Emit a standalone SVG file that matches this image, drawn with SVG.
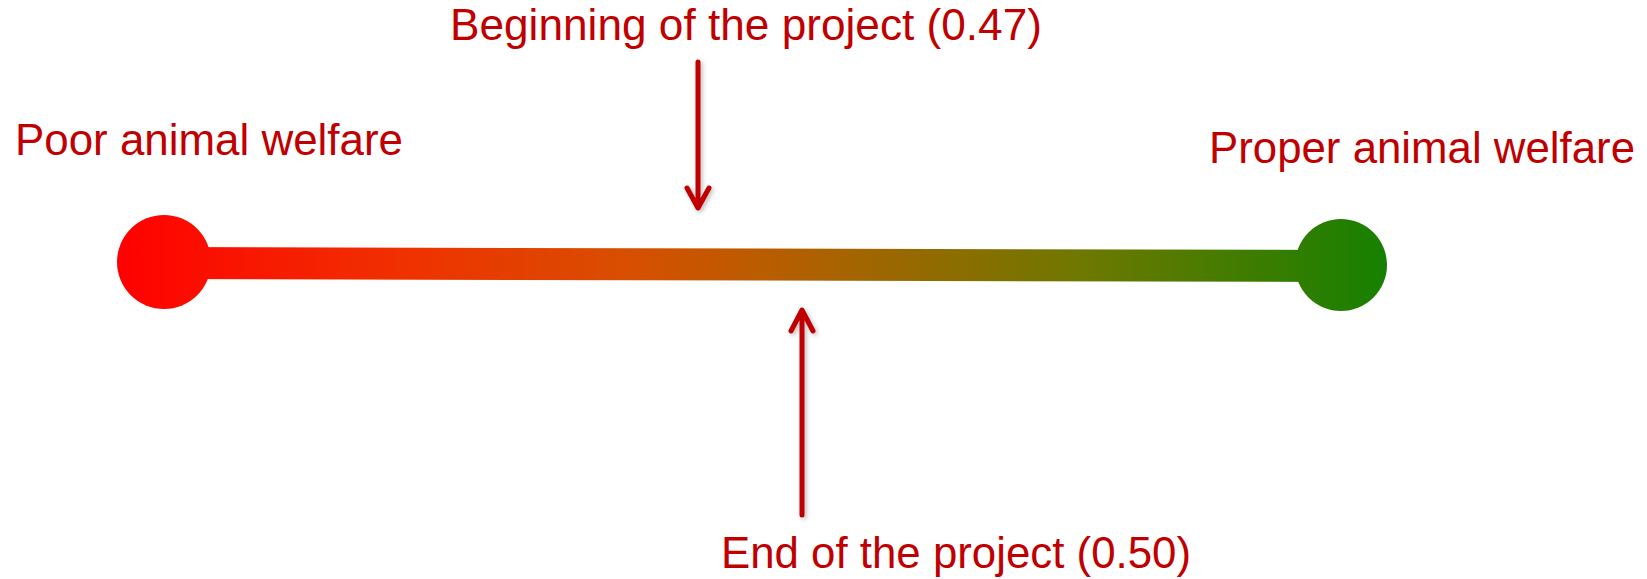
<svg xmlns="http://www.w3.org/2000/svg" width="1647" height="579" viewBox="0 0 1647 579">
  <style>
    .lbl { font-family: "Liberation Sans", Arial, sans-serif; font-size: 44px; fill: #C00000; }
    .arrow { fill: none; stroke: #C00000; stroke-width: 5; stroke-linecap: round; stroke-linejoin: round; }
  </style>
  <defs>
    <linearGradient id="scale" gradientUnits="userSpaceOnUse" x1="117" y1="0" x2="1387" y2="0">
      <stop offset="0" stop-color="#FF0000"/>
      <stop offset="0.22" stop-color="#F03000"/>
      <stop offset="0.40" stop-color="#D84E00"/>
      <stop offset="0.54" stop-color="#B06000"/>
      <stop offset="0.76" stop-color="#6E7800"/>
      <stop offset="1" stop-color="#168000"/>
    </linearGradient>
    <filter id="shadow" x="-50%" y="-10%" width="200%" height="120%">
      <feDropShadow dx="2" dy="2" stdDeviation="2" flood-color="#000" flood-opacity="0.25"/>
    </filter>
  </defs>
  <rect width="1647" height="579" fill="#FFFFFF"/>

  <g id="scale-bar">
    <path d="M164,247 L1341,250 L1341,282 L164,279 Z" fill="url(#scale)"/>
    <circle cx="164" cy="262" r="47" fill="url(#scale)"/>
    <circle cx="1341" cy="265" r="46" fill="url(#scale)"/>
  </g>

  <g id="poor">
    <text class="lbl" x="15" y="155" textLength="388" lengthAdjust="spacingAndGlyphs">Poor animal welfare</text>
  </g>
  <g id="proper">
    <text class="lbl" x="1209" y="163" textLength="426" lengthAdjust="spacingAndGlyphs">Proper animal welfare</text>
  </g>
  <g id="beginning">
    <text class="lbl" x="450" y="40" textLength="592" lengthAdjust="spacingAndGlyphs">Beginning of the project (0.47)</text>
  </g>
  <g id="end">
    <text class="lbl" x="721" y="568" textLength="470" lengthAdjust="spacingAndGlyphs">End of the project (0.50)</text>
  </g>

  <g id="connectors" filter="url(#shadow)">
    <path class="arrow" d="M698,62 L698,207 M687,188 L698,208 L709,188"/>
    <path class="arrow" d="M802,515 L802,311 M791,331 L802,310 L813,331"/>
  </g>
</svg>
